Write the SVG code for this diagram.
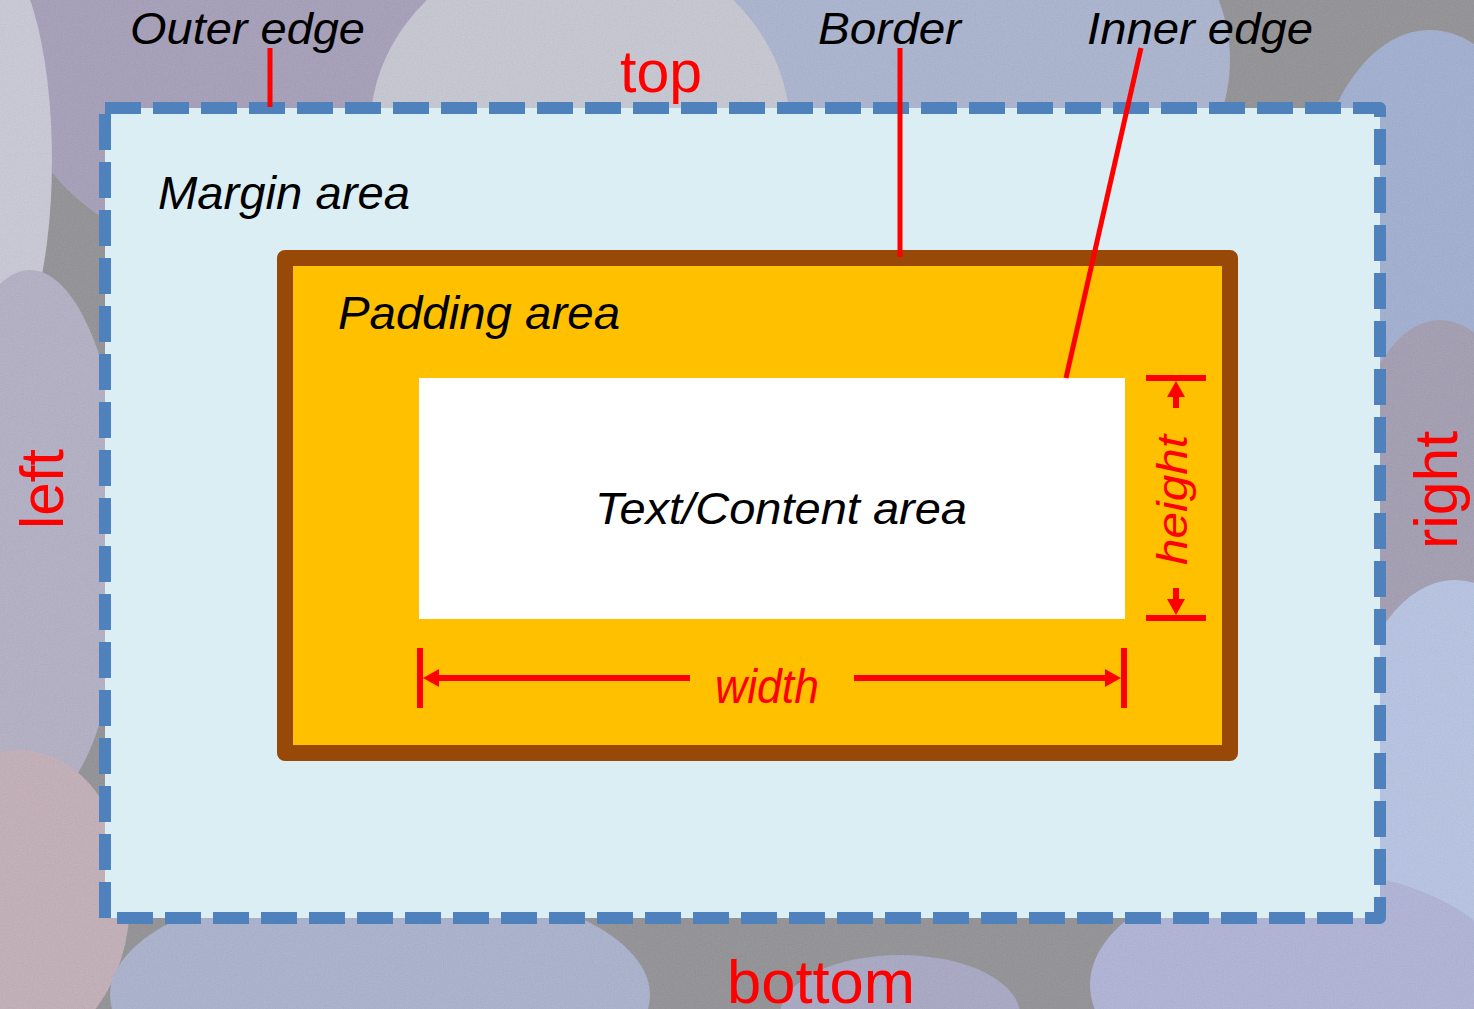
<svg xmlns="http://www.w3.org/2000/svg" width="1474" height="1009" viewBox="0 0 1474 1009">
  <defs>
    <style>
      .lbl { font-family: "Liberation Sans", Arial, sans-serif; font-style: italic; fill: #000; }
      .side { font-family: "Liberation Sans", Arial, sans-serif; fill: #FF0000; }
      .dim { font-family: "Liberation Sans", Arial, sans-serif; font-style: italic; fill: #FF0000; }
      .ptr { stroke: #FF0000; stroke-width: 5; fill: none; }
      .red6 { stroke: #FF0000; stroke-width: 6; fill: none; }
      .peb { stroke: none; }
    </style>
    <marker id="ah" markerUnits="userSpaceOnUse" markerWidth="16" markerHeight="18" refX="6" refY="9" orient="auto">
      <path d="M0,0 L16,9 L0,18 z" fill="#FF0000"/>
    </marker>
    <filter id="grain" x="0" y="0" width="100%" height="100%">
      <feTurbulence type="fractalNoise" baseFrequency="0.9" numOctaves="2" seed="3"/>
      <feColorMatrix type="saturate" values="0"/>
      <feComponentTransfer>
        <feFuncA type="linear" slope="0" intercept="0.12"/>
      </feComponentTransfer>
    </filter>
  </defs>

  <!-- background pebbles -->
  <g id="background">
    <rect x="0" y="0" width="1474" height="1009" fill="#8f8f93"/>
    <ellipse class="peb" cx="960" cy="60" rx="270" ry="210" fill="#a9b3cf"/>
    <ellipse class="peb" cx="250" cy="70" rx="235" ry="190" fill="#a39cb8"/>
    <ellipse class="peb" cx="580" cy="130" rx="210" ry="190" fill="#c6c7d2"/>
    <ellipse class="peb" cx="-10" cy="160" rx="62" ry="210" fill="#c9c8d6"/>
    <ellipse class="peb" cx="1430" cy="230" rx="120" ry="200" fill="#9fadd0"/>
    <ellipse class="peb" cx="1440" cy="490" rx="90" ry="170" fill="#a09bb0"/>
    <ellipse class="peb" cx="1455" cy="770" rx="110" ry="190" fill="#b5c3e3"/>
    <ellipse class="peb" cx="30" cy="540" rx="95" ry="270" fill="#b2aec4"/>
    <ellipse class="peb" cx="20" cy="900" rx="110" ry="150" fill="#c2adb6"/>
    <ellipse class="peb" cx="380" cy="995" rx="270" ry="115" fill="#a8b0cc"/>
    <ellipse class="peb" cx="1300" cy="985" rx="210" ry="115" fill="#aeb2d6"/>
    <ellipse class="peb" cx="900" cy="1015" rx="120" ry="60" fill="#a6a6c4"/>
    <rect x="0" y="0" width="1474" height="1009" filter="url(#grain)"/>
  </g>

  <!-- margin area -->
  <g id="margin">
    <path d="M105,108 H1380 V918 H105 Z" fill="#DBEEF3" stroke="#4F81BD" stroke-width="12" stroke-dasharray="36 12" stroke-linejoin="round"/>
    <text class="lbl" x="158" y="209" font-size="46" textLength="252" lengthAdjust="spacingAndGlyphs">Margin area</text>
  </g>

  <!-- border / padding -->
  <g id="border-box">
    <rect x="285" y="258" width="945" height="495" fill="#FFC000" stroke="#984807" stroke-width="16" stroke-linejoin="round"/>
    <text class="lbl" x="338" y="329" font-size="46" textLength="282" lengthAdjust="spacingAndGlyphs">Padding area</text>
  </g>

  <!-- content -->
  <g id="content">
    <rect x="419" y="378" width="706" height="241" fill="#FFFFFF"/>
    <text class="lbl" x="595" y="524" font-size="45" textLength="372" lengthAdjust="spacingAndGlyphs">Text/Content area</text>
  </g>

  <!-- top labels -->
  <g id="label-outer">
    <text class="lbl" x="130" y="44" font-size="44" textLength="235" lengthAdjust="spacingAndGlyphs">Outer edge</text>
  </g>
  <g id="label-border">
    <text class="lbl" x="818" y="44" font-size="44" textLength="143" lengthAdjust="spacingAndGlyphs">Border</text>
  </g>
  <g id="label-inner">
    <text class="lbl" x="1087" y="44" font-size="44" textLength="226" lengthAdjust="spacingAndGlyphs">Inner edge</text>
  </g>

  <!-- side labels -->
  <g id="label-top">
    <text class="side" x="620" y="92" font-size="60" textLength="82" lengthAdjust="spacingAndGlyphs">top</text>
  </g>
  <g id="label-bottom">
    <text class="side" x="727" y="1003" font-size="62" textLength="188" lengthAdjust="spacingAndGlyphs">bottom</text>
  </g>
  <g id="label-left">
    <text class="side" transform="translate(63,529) rotate(-90)" x="0" y="0" font-size="62" textLength="80" lengthAdjust="spacingAndGlyphs">left</text>
  </g>
  <g id="label-right">
    <text class="side" transform="translate(1457,549) rotate(-90)" x="0" y="0" font-size="62" textLength="118" lengthAdjust="spacingAndGlyphs">right</text>
  </g>

  <!-- dimension labels -->
  <g id="label-width">
    <text class="dim" x="715" y="703" font-size="48" textLength="104" lengthAdjust="spacingAndGlyphs">width</text>
  </g>
  <g id="label-height">
    <text class="dim" transform="translate(1187,565) rotate(-90)" x="0" y="0" font-size="42" textLength="130" lengthAdjust="spacingAndGlyphs">height</text>
  </g>

  <!-- connectors -->
  <g id="connectors">
    <line class="ptr" x1="270" y1="48" x2="270" y2="107"/>
    <line class="ptr" x1="900" y1="48" x2="900" y2="257"/>
    <line class="ptr" x1="1141" y1="48" x2="1066" y2="378"/>

    <!-- width dimension -->
    <line class="red6" x1="420" y1="648" x2="420" y2="708"/>
    <line class="red6" x1="1124" y1="648" x2="1124" y2="708"/>
    <line class="red6" x1="690" y1="678" x2="433" y2="678" marker-end="url(#ah)"/>
    <line class="red6" x1="854" y1="678" x2="1111" y2="678" marker-end="url(#ah)"/>

    <!-- height dimension -->
    <line class="red6" x1="1146" y1="378" x2="1206" y2="378"/>
    <line class="red6" x1="1146" y1="618" x2="1206" y2="618"/>
    <line class="red6" x1="1176" y1="408" x2="1176" y2="391" marker-end="url(#ah)"/>
    <line class="red6" x1="1176" y1="588" x2="1176" y2="605" marker-end="url(#ah)"/>
  </g>
</svg>
